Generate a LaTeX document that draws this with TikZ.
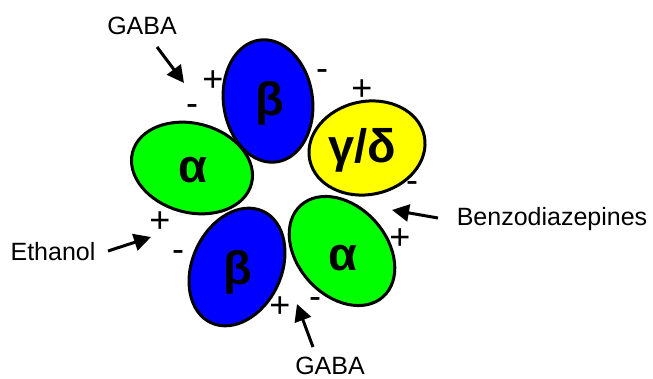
\documentclass[tikz,border=0pt]{standalone}
\usepackage{fontspec}
\setmainfont{Liberation Sans}
\usetikzlibrary{shapes.geometric,arrows.meta}
\definecolor{subblue}{RGB}{0,0,255}
\definecolor{subgreen}{RGB}{0,255,0}
\definecolor{subyellow}{RGB}{255,255,0}
\begin{document}
\begin{tikzpicture}[x=1pt,y=1pt,
  subunit/.style={ellipse, draw=black, line width=3pt, inner sep=0pt,
    minimum width=123pt, minimum height=89pt},
  letter/.style={font=\fontsize{47}{50}\selectfont\bfseries, inner sep=0pt},
  druglabel/.style={font=\fontsize{25}{28}\selectfont, inner sep=0pt},
  sign/.style={font=\fontsize{36}{38}\selectfont, inner sep=0pt},
  drug/.style={line width=3pt, -{Triangle[length=17pt,width=17pt]}}
]
\useasboundingbox (0,0) rectangle (653,-379);

% the five subunits around the pore
\node[subunit, fill=subgreen, rotate=-15] (alphaL) at (192,-168) {};
\node[subunit, fill=subblue, rotate=98] (betaT) at (268,-101) {};
\node[subunit, fill=subyellow, rotate=12, minimum width=117pt, minimum height=93pt] (gd) at (367,-148) {};
\node[subunit, fill=subgreen, rotate=-48] (alphaR) at (342,-251) {};
\node[subunit, fill=subblue, rotate=65] (betaB) at (237,-267) {};

\node[letter] (tAlphaL) at (193,-170) {α};
\node[letter] (tBetaT) at (270,-103) {β};
\node[letter] (tGd) at (362,-150) {γ/δ};
\node[letter] (tAlphaR) at (343,-258) {α};
\node[letter] (tBetaB) at (238,-272) {β};

% interface signs
\node[sign] (s1) at (213,-81) {+};
\node[sign] (s2) at (322,-75) {-};
\node[sign] (s3) at (192,-110) {-};
\node[sign] (s4) at (362,-90) {+};
\node[sign] (s5) at (412,-187) {-};
\node[sign] (s6) at (400,-239) {+};
\node[sign] (s7) at (160,-222) {+};
\node[sign] (s8) at (178,-256) {-};
\node[sign] (s9) at (280,-307) {+};
\node[sign] (s10) at (315,-303) {-};

% ligands and their binding sites
\node[druglabel] (gabaT) at (142,-26) {GABA};
\node[druglabel] (etoh) at (53,-252) {Ethanol};
\node[druglabel] (bzd) at (552,-219) {Benzodiazepines};
\node[druglabel] (gabaB) at (330,-366) {GABA};

\coordinate (gabaTs) at (157,-47);
\coordinate (gabaTe) at (184,-83);
\coordinate (etohS) at (108,-251);
\coordinate (etohE) at (151,-237);
\coordinate (bzdS) at (438,-218);
\coordinate (bzdE) at (392,-210);
\coordinate (gabaBs) at (313,-347);
\coordinate (gabaBe) at (297,-304);

\draw[drug] (gabaTs) -- (gabaTe);
\draw[drug] (etohS) -- (etohE);
\draw[drug] (bzdS) -- (bzdE);
\draw[drug] (gabaBs) -- (gabaBe);
\end{tikzpicture}
\end{document}
